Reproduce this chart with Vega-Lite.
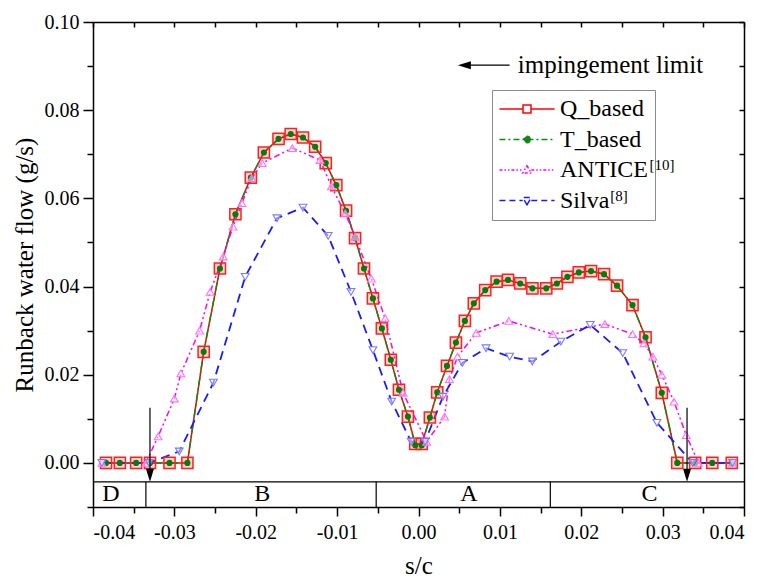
{
  "$schema": "https://vega.github.io/schema/vega-lite/v6.json",
  "width": 651,
  "height": 485,
  "autosize": "none",
  "padding": {"left": 93, "top": 22, "right": 20, "bottom": 74},
  "config": {
    "view": {"stroke": null},
    "font": "Liberation Serif",
    "style": {"guide-label": {"font": "Liberation Serif", "fontWeight": "normal"}, "guide-title": {"font": "Liberation Serif", "fontWeight": "normal"}},
    "axis": {"labelFont": "Liberation Serif", "labelFontSize": 20, "labelFontWeight": "normal", "labelColor": "black", "titleFont": "Liberation Serif", "titleFontSize": 24, "titleFontWeight": "normal", "titleColor": "black", "domainColor": "black", "tickColor": "black", "domainWidth": 1.5, "tickWidth": 1.5, "grid": false},
    "legend": {"labelFont": "Liberation Serif", "labelFontSize": 24},
    "text": {"font": "Liberation Serif", "color": "black"}
  },
  "datasets": {
    "curves": [
      {"series":"Q_based","x":-0.0384,"y":0},{"series":"Q_based","x":-0.0367,"y":0},{"series":"Q_based","x":-0.0347,"y":0},{"series":"Q_based","x":-0.0330,"y":0},{"series":"Q_based","x":-0.0306,"y":0},{"series":"Q_based","x":-0.0284,"y":0},{"series":"Q_based","x":-0.0264,"y":0.0252},{"series":"Q_based","x":-0.0244,"y":0.0441},{"series":"Q_based","x":-0.0225,"y":0.0564},{"series":"Q_based","x":-0.0206,"y":0.0647},{"series":"Q_based","x":-0.0190,"y":0.0704},{"series":"Q_based","x":-0.0172,"y":0.0735},{"series":"Q_based","x":-0.0157,"y":0.0746},{"series":"Q_based","x":-0.0142,"y":0.0738},{"series":"Q_based","x":-0.0127,"y":0.0717},{"series":"Q_based","x":-0.0114,"y":0.0680},{"series":"Q_based","x":-0.0101,"y":0.0630},{"series":"Q_based","x":-0.0089,"y":0.0572},{"series":"Q_based","x":-0.0078,"y":0.0510},{"series":"Q_based","x":-0.0067,"y":0.0441},{"series":"Q_based","x":-0.0056,"y":0.0373},{"series":"Q_based","x":-0.0045,"y":0.0305},{"series":"Q_based","x":-0.0034,"y":0.0234},{"series":"Q_based","x":-0.0024,"y":0.0166},{"series":"Q_based","x":-0.0013,"y":0.0105},{"series":"Q_based","x":-0.0004,"y":0.0043},{"series":"Q_based","x":0.0004,"y":0.0043},{"series":"Q_based","x":0.0014,"y":0.0103},{"series":"Q_based","x":0.0023,"y":0.0160},{"series":"Q_based","x":0.0035,"y":0.0220},{"series":"Q_based","x":0.0046,"y":0.0273},{"series":"Q_based","x":0.0057,"y":0.0322},{"series":"Q_based","x":0.0068,"y":0.0362},{"series":"Q_based","x":0.0082,"y":0.0392},{"series":"Q_based","x":0.0096,"y":0.0411},{"series":"Q_based","x":0.0110,"y":0.0415},{"series":"Q_based","x":0.0125,"y":0.0407},{"series":"Q_based","x":0.0140,"y":0.0396},{"series":"Q_based","x":0.0157,"y":0.0396},{"series":"Q_based","x":0.0170,"y":0.0407},{"series":"Q_based","x":0.0183,"y":0.0422},{"series":"Q_based","x":0.0197,"y":0.0432},{"series":"Q_based","x":0.0212,"y":0.0435},{"series":"Q_based","x":0.0228,"y":0.0428},{"series":"Q_based","x":0.0244,"y":0.0402},{"series":"Q_based","x":0.0263,"y":0.0358},{"series":"Q_based","x":0.0279,"y":0.0285},{"series":"Q_based","x":0.0299,"y":0.0159},{"series":"Q_based","x":0.0318,"y":0},{"series":"Q_based","x":0.0340,"y":0},{"series":"Q_based","x":0.0361,"y":0},{"series":"Q_based","x":0.0385,"y":0},
      {"series":"T_based","x":-0.0384,"y":0},{"series":"T_based","x":-0.0367,"y":0},{"series":"T_based","x":-0.0347,"y":0},{"series":"T_based","x":-0.0330,"y":0},{"series":"T_based","x":-0.0306,"y":0},{"series":"T_based","x":-0.0284,"y":0},{"series":"T_based","x":-0.0264,"y":0.0252},{"series":"T_based","x":-0.0244,"y":0.0441},{"series":"T_based","x":-0.0225,"y":0.0564},{"series":"T_based","x":-0.0206,"y":0.0647},{"series":"T_based","x":-0.0190,"y":0.0704},{"series":"T_based","x":-0.0172,"y":0.0735},{"series":"T_based","x":-0.0157,"y":0.0746},{"series":"T_based","x":-0.0142,"y":0.0738},{"series":"T_based","x":-0.0127,"y":0.0717},{"series":"T_based","x":-0.0114,"y":0.0680},{"series":"T_based","x":-0.0101,"y":0.0630},{"series":"T_based","x":-0.0089,"y":0.0572},{"series":"T_based","x":-0.0078,"y":0.0510},{"series":"T_based","x":-0.0067,"y":0.0441},{"series":"T_based","x":-0.0056,"y":0.0373},{"series":"T_based","x":-0.0045,"y":0.0305},{"series":"T_based","x":-0.0034,"y":0.0234},{"series":"T_based","x":-0.0024,"y":0.0166},{"series":"T_based","x":-0.0013,"y":0.0105},{"series":"T_based","x":-0.0004,"y":0.0040},{"series":"T_based","x":0.0004,"y":0.0040},{"series":"T_based","x":0.0014,"y":0.0103},{"series":"T_based","x":0.0023,"y":0.0160},{"series":"T_based","x":0.0035,"y":0.0220},{"series":"T_based","x":0.0046,"y":0.0273},{"series":"T_based","x":0.0057,"y":0.0322},{"series":"T_based","x":0.0068,"y":0.0362},{"series":"T_based","x":0.0082,"y":0.0392},{"series":"T_based","x":0.0096,"y":0.0411},{"series":"T_based","x":0.0110,"y":0.0415},{"series":"T_based","x":0.0125,"y":0.0407},{"series":"T_based","x":0.0140,"y":0.0396},{"series":"T_based","x":0.0157,"y":0.0396},{"series":"T_based","x":0.0170,"y":0.0407},{"series":"T_based","x":0.0183,"y":0.0422},{"series":"T_based","x":0.0197,"y":0.0432},{"series":"T_based","x":0.0212,"y":0.0435},{"series":"T_based","x":0.0228,"y":0.0428},{"series":"T_based","x":0.0244,"y":0.0402},{"series":"T_based","x":0.0263,"y":0.0358},{"series":"T_based","x":0.0279,"y":0.0285},{"series":"T_based","x":0.0299,"y":0.0159},{"series":"T_based","x":0.0318,"y":0},{"series":"T_based","x":0.0340,"y":0},{"series":"T_based","x":0.0361,"y":0},{"series":"T_based","x":0.0385,"y":0},
      {"series":"ANTICE","x":-0.0389,"y":0},{"series":"ANTICE","x":-0.0335,"y":0},{"series":"ANTICE","x":-0.0320,"y":0.0060},{"series":"ANTICE","x":-0.0300,"y":0.0146},{"series":"ANTICE","x":-0.0292,"y":0.0203},{"series":"ANTICE","x":-0.0269,"y":0.0300},{"series":"ANTICE","x":-0.0256,"y":0.0388},{"series":"ANTICE","x":-0.0240,"y":0.0468},{"series":"ANTICE","x":-0.0228,"y":0.0536},{"series":"ANTICE","x":-0.0217,"y":0.0589},{"series":"ANTICE","x":-0.0205,"y":0.0646},{"series":"ANTICE","x":-0.0192,"y":0.0680},{"series":"ANTICE","x":-0.0155,"y":0.0714},{"series":"ANTICE","x":-0.0121,"y":0.0687},{"series":"ANTICE","x":-0.0107,"y":0.0627},{"series":"ANTICE","x":-0.0090,"y":0.0566},{"series":"ANTICE","x":-0.0078,"y":0.0513},{"series":"ANTICE","x":-0.0058,"y":0.0418},{"series":"ANTICE","x":-0.0041,"y":0.0328},{"series":"ANTICE","x":-0.0019,"y":0.0159},{"series":"ANTICE","x":0.0010,"y":0.0048},{"series":"ANTICE","x":0.0032,"y":0.0105},{"series":"ANTICE","x":0.0038,"y":0.0190},{"series":"ANTICE","x":0.0048,"y":0.0241},{"series":"ANTICE","x":0.0071,"y":0.0295},{"series":"ANTICE","x":0.0111,"y":0.0322},{"series":"ANTICE","x":0.0165,"y":0.0292},{"series":"ANTICE","x":0.0229,"y":0.0315},{"series":"ANTICE","x":0.0263,"y":0.0292},{"series":"ANTICE","x":0.0277,"y":0.0271},{"series":"ANTICE","x":0.0288,"y":0.0241},{"series":"ANTICE","x":0.0299,"y":0.0200},{"series":"ANTICE","x":0.0314,"y":0.0139},{"series":"ANTICE","x":0.0329,"y":0.0063},{"series":"ANTICE","x":0.0344,"y":0},{"series":"ANTICE","x":0.0386,"y":0},
      {"series":"Silva","x":-0.0389,"y":0},{"series":"Silva","x":-0.0331,"y":0},{"series":"Silva","x":-0.0294,"y":0.0026},{"series":"Silva","x":-0.0252,"y":0.0182},{"series":"Silva","x":-0.0213,"y":0.0422},{"series":"Silva","x":-0.0174,"y":0.0555},{"series":"Silva","x":-0.0142,"y":0.0579},{"series":"Silva","x":-0.0111,"y":0.0515},{"series":"Silva","x":-0.0083,"y":0.0388},{"series":"Silva","x":-0.0056,"y":0.0256},{"series":"Silva","x":-0.0033,"y":0.0139},{"series":"Silva","x":-0.0009,"y":0.0048},{"series":"Silva","x":0.0008,"y":0.0048},{"series":"Silva","x":0.0030,"y":0.0150},{"series":"Silva","x":0.0054,"y":0.0227},{"series":"Silva","x":0.0083,"y":0.0260},{"series":"Silva","x":0.0112,"y":0.0241},{"series":"Silva","x":0.0140,"y":0.0230},{"series":"Silva","x":0.0175,"y":0.0275},{"series":"Silva","x":0.0211,"y":0.0313},{"series":"Silva","x":0.0251,"y":0.0249},{"series":"Silva","x":0.0293,"y":0.0091},{"series":"Silva","x":0.0337,"y":0},{"series":"Silva","x":0.0386,"y":0}
    ],
    "zones": [
      {"label": "D", "x": -0.0378, "div": -0.0335},
      {"label": "B", "x": -0.0192, "div": -0.0052},
      {"label": "A", "x": 0.0062, "div": 0.0162},
      {"label": "C", "x": 0.0284, "div": null}
    ],
    "band": [{"x1": -0.04, "x2": 0.04, "y": -0.0043}],
    "varrows": [{"x": -0.033, "top": 0.0125, "bottom": -0.0016, "tip": -0.0043}, {"x": 0.033, "top": 0.0125, "bottom": -0.0016, "tip": -0.0043}],
    "harrow": [{"x1": 0.0060, "x2": 0.0112, "tip": 0.00484, "y": 0.0902, "label": "impingement limit", "tx": 0.0122}],
    "supers": [{"label": "[10]", "x": 0.0284, "y": 0.0664}, {"label": "[8]", "x": 0.02355, "y": 0.0593}]
  },
  "resolve": {"axis": {"x": "independent", "y": "independent"}},
  "layer": [
    {
      "data": {"name": "curves"},
      "transform": [{"filter": "datum.series == 'Q_based'"}],
      "mark": {"type": "line", "strokeWidth": 1.5, "color": "#ff0000", "clip": true},
      "encoding": {
        "x": {"field": "x", "type": "quantitative", "scale": {"domain": [-0.04, 0.04], "nice": false, "zero": false},
          "axis": {"orient": "bottom", "values": [-0.04,-0.035,-0.03,-0.025,-0.02,-0.015,-0.01,-0.005,0,0.005,0.01,0.015,0.02,0.025,0.03,0.035,0.04],
            "labelExpr": "round(datum.value*1000) % 10 == 0 ? replace(format(datum.value, '.2f'), '\u2212', '-') : ''",
            "tickSize": {"condition": {"test": "round(datum.value*1000) % 10 == 0", "value": 9}, "value": 6},
            "labelFont": "Liberation Serif", "labelFontSize": 20, "titleFont": "Liberation Serif", "titleFontSize": 25, "titleFontWeight": "normal",
            "labelPadding": 6, "title": "s/c", "titlePadding": 11}},
        "y": {"field": "y", "type": "quantitative", "scale": {"domain": [-0.01, 0.1], "nice": false, "zero": false},
          "axis": {"orient": "left", "values": [-0.01,0,0.01,0.02,0.03,0.04,0.05,0.06,0.07,0.08,0.09,0.1],
            "labelExpr": "datum.value > -0.001 && round(datum.value*100) % 2 == 0 ? format(datum.value, '.2f') : ''",
            "tickSize": {"condition": {"test": "round(datum.value*100) % 2 == 0", "value": 10}, "value": 6},
            "labelFont": "Liberation Serif", "labelFontSize": 20, "titleFont": "Liberation Serif", "titleFontSize": 25, "titleFontWeight": "normal",
            "labelPadding": 4, "title": "Runback water flow (g/s)", "titlePadding": 7}}
      }
    },
    {
      "data": {"name": "curves"},
      "transform": [{"filter": "datum.series == 'T_based'"}],
      "mark": {"type": "line", "strokeWidth": 1.5, "color": "#108a10", "strokeDash": [8, 3, 2, 3], "clip": true},
      "encoding": {
        "x": {"field": "x", "type": "quantitative", "scale": {"domain": [-0.04, 0.04], "nice": false, "zero": false}, "axis": null},
        "y": {"field": "y", "type": "quantitative", "scale": {"domain": [-0.01, 0.1], "nice": false, "zero": false}, "axis": null}
      }
    },
    {
      "data": {"name": "curves"},
      "transform": [{"filter": "datum.series == 'ANTICE'"}],
      "mark": {"type": "line", "strokeWidth": 1.5, "color": "#ff00ff", "strokeDash": [6, 3, 2, 3, 2, 3], "clip": true},
      "encoding": {
        "x": {"field": "x", "type": "quantitative", "scale": {"domain": [-0.04, 0.04], "nice": false, "zero": false}, "axis": null},
        "y": {"field": "y", "type": "quantitative", "scale": {"domain": [-0.01, 0.1], "nice": false, "zero": false}, "axis": null}
      }
    },
    {
      "data": {"name": "curves"},
      "transform": [{"filter": "datum.series == 'Silva'"}],
      "mark": {"type": "line", "strokeWidth": 1.8, "color": "#1a1aff", "strokeDash": [9, 6], "clip": true},
      "encoding": {
        "x": {"field": "x", "type": "quantitative", "scale": {"domain": [-0.04, 0.04], "nice": false, "zero": false}, "axis": null},
        "y": {"field": "y", "type": "quantitative", "scale": {"domain": [-0.01, 0.1], "nice": false, "zero": false}, "axis": null}
      }
    },
    {
      "data": {"name": "curves"},
      "mark": {"type": "point", "opacity": 0},
      "encoding": {
        "x": {"field": "x", "type": "quantitative", "scale": {"domain": [-0.04, 0.04], "nice": false, "zero": false}, "axis": null},
        "y": {"field": "y", "type": "quantitative", "scale": {"domain": [-0.01, 0.1], "nice": false, "zero": false}, "axis": null},
        "stroke": {"field": "series", "type": "nominal", "scale": {"domain": ["Q_based", "T_based", "ANTICE", "Silva"], "range": ["#ff0000", "#108a10", "#ff00ff", "#1a1aff"]},
          "legend": {"orient": "none", "legendX": 399, "legendY": 68, "title": null, "strokeColor": "#8a8a8a", "padding": 7, "labelFont": "Liberation Serif", "labelFontSize": 24, "labelColor": "black", "labelLimit": 300, "symbolSize": 361, "symbolStrokeWidth": 1.5, "symbolOffset": 16, "labelOffset": 21, "rowPadding": 6.5, "symbolOpacity": 1, "labelExpr": "datum.label == 'ANTICE' ? 'ANTICE\u00a0\u00a0\u00a0\u00a0' : datum.label"}},
        "fill": {"field": "series", "type": "nominal", "scale": {"domain": ["Q_based", "T_based", "ANTICE", "Silva"], "range": ["white", "#108a10", "white", "white"]},
          "legend": {"orient": "none", "legendX": 399, "legendY": 68, "title": null, "strokeColor": "#8a8a8a", "padding": 7, "labelFont": "Liberation Serif", "labelFontSize": 24, "labelColor": "black", "labelLimit": 300, "symbolSize": 361, "symbolStrokeWidth": 1.5, "symbolOffset": 16, "labelOffset": 21, "rowPadding": 6.5, "symbolOpacity": 1, "labelExpr": "datum.label == 'ANTICE' ? 'ANTICE\u00a0\u00a0\u00a0\u00a0' : datum.label"}},
        "shape": {"field": "series", "type": "nominal", "scale": {"domain": ["Q_based", "T_based", "ANTICE", "Silva"], "range": ["M-2.9,0H-0.42M0.42,0H2.9M-0.42,-0.42H0.42V0.42H-0.42Z", "M-2.9,0H2.9M0.33,0A0.33,0.33,0,1,1,-0.33,0A0.33,0.33,0,1,1,0.33,0Z", "M-2.9,0H-0.45M0.45,0H2.9M0,-0.45L0.45,0.32L-0.45,0.32Z", "M-2.9,0H-0.45M0.45,0H2.9M0,0.45L0.45,-0.32L-0.45,-0.32Z"]},
          "legend": {"orient": "none", "legendX": 399, "legendY": 68, "title": null, "strokeColor": "#8a8a8a", "padding": 7, "labelFont": "Liberation Serif", "labelFontSize": 24, "labelColor": "black", "labelLimit": 300, "symbolSize": 361, "symbolStrokeWidth": 1.5, "symbolOffset": 16, "labelOffset": 21, "rowPadding": 6.5, "symbolOpacity": 1, "labelExpr": "datum.label == 'ANTICE' ? 'ANTICE\u00a0\u00a0\u00a0\u00a0' : datum.label"}},
        "strokeDash": {"field": "series", "type": "nominal", "scale": {"domain": ["Q_based", "T_based", "ANTICE", "Silva"], "range": [[1, 0], [6, 3, 2, 3], [3, 2, 1.5, 2, 1.5, 2], [6, 4]]},
          "legend": {"orient": "none", "legendX": 399, "legendY": 68, "title": null, "strokeColor": "#8a8a8a", "padding": 7, "labelFont": "Liberation Serif", "labelFontSize": 24, "labelColor": "black", "labelLimit": 300, "symbolSize": 361, "symbolStrokeWidth": 1.5, "symbolOffset": 16, "labelOffset": 21, "rowPadding": 6.5, "symbolOpacity": 1, "labelExpr": "datum.label == 'ANTICE' ? 'ANTICE\u00a0\u00a0\u00a0\u00a0' : datum.label"}}
      }
    },
    {
      "data": {"name": "curves"},
      "transform": [{"filter": "datum.series == 'Q_based'"}],
      "mark": {"type": "point", "shape": "square", "size": 125, "stroke": "#ff2020", "strokeWidth": 1.5, "fill": "#ff0000", "fillOpacity": 0.18},
      "encoding": {
        "x": {"field": "x", "type": "quantitative", "scale": {"domain": [-0.04, 0.04], "nice": false, "zero": false}, "axis": null},
        "y": {"field": "y", "type": "quantitative", "scale": {"domain": [-0.01, 0.1], "nice": false, "zero": false}, "axis": null}
      }
    },
    {
      "data": {"name": "curves"},
      "transform": [{"filter": "datum.series == 'T_based'"}],
      "mark": {"type": "point", "shape": "circle", "size": 38, "filled": true, "color": "#0a7a0a", "opacity": 1},
      "encoding": {
        "x": {"field": "x", "type": "quantitative", "scale": {"domain": [-0.04, 0.04], "nice": false, "zero": false}, "axis": null},
        "y": {"field": "y", "type": "quantitative", "scale": {"domain": [-0.01, 0.1], "nice": false, "zero": false}, "axis": null}
      }
    },
    {
      "data": {"name": "curves"},
      "transform": [{"filter": "datum.series == 'ANTICE'"}],
      "mark": {"type": "point", "shape": "triangle-up", "size": 60, "stroke": "#ff70ff", "strokeWidth": 1.1, "fill": "white", "fillOpacity": 0.5},
      "encoding": {
        "x": {"field": "x", "type": "quantitative", "scale": {"domain": [-0.04, 0.04], "nice": false, "zero": false}, "axis": null},
        "y": {"field": "y", "type": "quantitative", "scale": {"domain": [-0.01, 0.1], "nice": false, "zero": false}, "axis": null}
      }
    },
    {
      "data": {"name": "curves"},
      "transform": [{"filter": "datum.series == 'Silva'"}],
      "mark": {"type": "point", "shape": "triangle-down", "size": 60, "stroke": "#7a7aff", "strokeWidth": 1.1, "fill": "white", "fillOpacity": 0.5},
      "encoding": {
        "x": {"field": "x", "type": "quantitative", "scale": {"domain": [-0.04, 0.04], "nice": false, "zero": false}, "axis": null},
        "y": {"field": "y", "type": "quantitative", "scale": {"domain": [-0.01, 0.1], "nice": false, "zero": false}, "axis": null}
      }
    },
    {
      "data": {"name": "band"},
      "mark": {"type": "rule", "color": "black", "strokeWidth": 1.2},
      "encoding": {
        "x": {"field": "x1", "type": "quantitative", "scale": {"domain": [-0.04, 0.04], "nice": false, "zero": false},
          "axis": {"orient": "top", "values": [-0.04,-0.035,-0.03,-0.025,-0.02,-0.015,-0.01,-0.005,0,0.005,0.01,0.015,0.02,0.025,0.03,0.035,0.04], "labels": false, "tickSize": -5, "title": null}},
        "x2": {"field": "x2"},
        "y": {"field": "y", "type": "quantitative", "scale": {"domain": [-0.01, 0.1], "nice": false, "zero": false},
          "axis": {"orient": "right", "values": [-0.01,0,0.01,0.02,0.03,0.04,0.05,0.06,0.07,0.08,0.09,0.1], "labels": false, "tickSize": -5, "title": null}}
      }
    },
    {
      "data": {"name": "zones"},
      "transform": [{"filter": "datum.div != null"}],
      "mark": {"type": "rule", "color": "black", "strokeWidth": 1.2},
      "encoding": {
        "x": {"field": "div", "type": "quantitative", "scale": {"domain": [-0.04, 0.04], "nice": false, "zero": false}, "axis": null},
        "y": {"datum": -0.01, "type": "quantitative", "scale": {"domain": [-0.01, 0.1], "nice": false, "zero": false}, "axis": null},
        "y2": {"datum": -0.0043}
      }
    },
    {
      "data": {"name": "zones"},
      "mark": {"type": "text", "fontSize": 24, "align": "center", "baseline": "middle", "font": "Liberation Serif", "color": "black"},
      "encoding": {
        "x": {"field": "x", "type": "quantitative", "scale": {"domain": [-0.04, 0.04], "nice": false, "zero": false}, "axis": null},
        "y": {"datum": -0.0071, "type": "quantitative", "scale": {"domain": [-0.01, 0.1], "nice": false, "zero": false}, "axis": null},
        "text": {"field": "label"}
      }
    },
    {
      "data": {"name": "varrows"},
      "mark": {"type": "rule", "color": "black", "strokeWidth": 1.2},
      "encoding": {
        "x": {"field": "x", "type": "quantitative", "scale": {"domain": [-0.04, 0.04], "nice": false, "zero": false}, "axis": null},
        "y": {"field": "top", "type": "quantitative", "scale": {"domain": [-0.01, 0.1], "nice": false, "zero": false}, "axis": null},
        "y2": {"field": "bottom"}
      }
    },
    {
      "data": {"name": "varrows"},
      "mark": {"type": "point", "shape": "M0,0L-2,-6.5L2,-6.5Z", "size": 16, "filled": true, "color": "black", "opacity": 1, "strokeWidth": 0},
      "encoding": {
        "x": {"field": "x", "type": "quantitative", "scale": {"domain": [-0.04, 0.04], "nice": false, "zero": false}, "axis": null},
        "y": {"field": "tip", "type": "quantitative", "scale": {"domain": [-0.01, 0.1], "nice": false, "zero": false}, "axis": null}
      }
    },
    {
      "data": {"name": "harrow"},
      "mark": {"type": "rule", "color": "black", "strokeWidth": 1.2},
      "encoding": {
        "x": {"field": "x1", "type": "quantitative", "scale": {"domain": [-0.04, 0.04], "nice": false, "zero": false}, "axis": null},
        "x2": {"field": "x2"},
        "y": {"field": "y", "type": "quantitative", "scale": {"domain": [-0.01, 0.1], "nice": false, "zero": false}, "axis": null}
      }
    },
    {
      "data": {"name": "harrow"},
      "mark": {"type": "point", "shape": "M0,0L6.5,-2L6.5,2Z", "size": 16, "filled": true, "color": "black", "opacity": 1, "strokeWidth": 0},
      "encoding": {
        "x": {"field": "tip", "type": "quantitative", "scale": {"domain": [-0.04, 0.04], "nice": false, "zero": false}, "axis": null},
        "y": {"field": "y", "type": "quantitative", "scale": {"domain": [-0.01, 0.1], "nice": false, "zero": false}, "axis": null}
      }
    },
    {
      "data": {"name": "harrow"},
      "mark": {"type": "text", "fontSize": 25, "align": "left", "baseline": "middle", "font": "Liberation Serif", "color": "black"},
      "encoding": {
        "x": {"field": "tx", "type": "quantitative", "scale": {"domain": [-0.04, 0.04], "nice": false, "zero": false}, "axis": null},
        "y": {"field": "y", "type": "quantitative", "scale": {"domain": [-0.01, 0.1], "nice": false, "zero": false}, "axis": null},
        "text": {"field": "label"}
      }
    },
    {
      "data": {"name": "supers"},
      "mark": {"type": "text", "fontSize": 15, "align": "left", "baseline": "alphabetic", "font": "Liberation Serif", "color": "black"},
      "encoding": {
        "x": {"field": "x", "type": "quantitative", "scale": {"domain": [-0.04, 0.04], "nice": false, "zero": false}, "axis": null},
        "y": {"field": "y", "type": "quantitative", "scale": {"domain": [-0.01, 0.1], "nice": false, "zero": false}, "axis": null},
        "text": {"field": "label"}
      }
    }
  ]
}
